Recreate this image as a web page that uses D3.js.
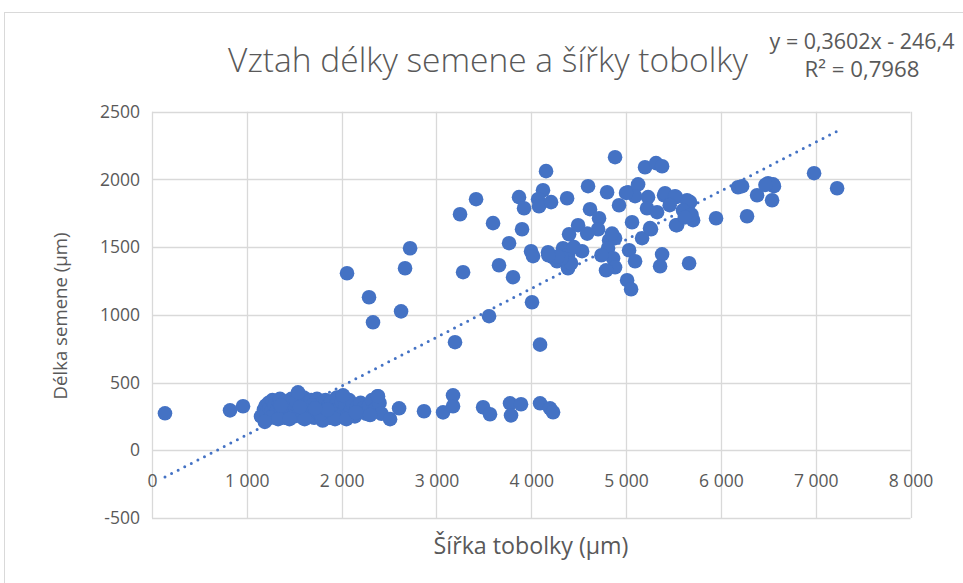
<!DOCTYPE html>
<html>
<head>
<meta charset="utf-8">
<script src="https://cdn.jsdelivr.net/npm/d3@7"></script>
<style>
  body { margin: 0; background: #fff; }
  svg text { font-family: "Open Sans", "Noto Sans", sans-serif; fill: #595959; }
</style>
</head>
<body>
<div id="chart"></div>
<script>
// sirka tobolky (um) - x values
var sirka = [
  137, 823, 960,
  1150, 1180, 1200, 1210, 1230, 1240, 1260, 1270, 1290, 1300, 1320, 1340, 1350, 1370, 1380, 1400,
  1410, 1430, 1440, 1460, 1470, 1490, 1500, 1520, 1540, 1550, 1560, 1580, 1590, 1600, 1620, 1640,
  1650, 1670, 1680, 1700, 1710, 1730, 1740, 1760, 1770, 1790, 1800, 1810, 1830, 1840, 1860, 1870,
  1890, 1900, 1920, 1940, 1950, 1970, 1990, 2000, 2010, 2030, 2040, 2060, 2080, 2100, 2120, 2140,
  2160, 2180, 2200, 2230, 2260, 2290, 2320, 2350, 2380, 2400, 2420, 1250, 1330, 1450, 1610, 1780,
  1930, 1480, 1690, 1850, 1360, 1520, 2050, 2150, 2300, 1560, 1720, 1190, 2384, 2015, 1540,
  2511, 2606, 2869, 3070, 3175, 3175, 3492, 3565, 3776, 3787, 3892, 4093, 4198, 4230,
  2057, 2289, 2331, 2627, 2669, 2722, 3249, 3418, 3281, 3196, 3555, 3597, 3660, 3766, 3808, 3871,
  3924, 3903, 3998, 4019, 4008, 4093, 4124, 4072, 4082, 4156, 4209, 4378, 4177, 4230, 4272, 4335,
  4388, 4388, 4420, 4399, 4494, 4536, 4599, 4620, 4715, 4705, 4800, 4884, 4926, 4821, 4884, 4810,
  4863, 4884, 4789, 5011, 5053, 5032, 5095, 5063, 5021, 5127, 5095, 5200, 5316, 5380, 5232, 5221,
  5327, 5263, 5169, 5380, 5359, 5401, 5527, 5665, 5527, 5675, 5707, 5949, 6276, 6382, 6181, 6224,
  6498, 6551, 6540, 6983, 7226, 5643, 5601, 5538, 5253, 5411, 5517, 5690, 5620, 5460, 4852, 4740,
  4590, 4450, 4320, 4280, 4180, 5000, 6560, 6470
];
// delka semene (um) - y values
var delka = [
  273, 295, 325,
  250, 300, 330, 270, 350, 310, 290, 370, 330, 260, 300, 350, 380, 280, 320, 240,
  360, 300, 340, 270, 380, 320, 250, 300, 360, 410, 280, 330, 240, 390, 300, 350,
  260, 320, 370, 290, 240, 340, 380, 300, 260, 350, 220, 310, 370, 280, 330, 240,
  360, 300, 270, 340, 390, 310, 250, 360, 400, 290, 330, 260, 370, 300, 340, 250,
  320, 290, 350, 310, 270, 330, 370, 300, 399, 350, 270, 240, 230, 230, 230, 270,
  230, 350, 330, 300, 330, 360, 230, 280, 260, 320, 310, 210, 399, 406, 428,
  230, 310, 288, 280, 406, 325, 318, 266, 347, 258, 340, 347, 310, 281,
  1307, 1130, 945, 1026, 1344, 1492, 1743, 1854, 1315, 798, 990, 1677, 1366, 1529, 1278, 1869,
  1787, 1632, 1470, 1433, 1093, 780, 1920, 1854, 1802, 2061, 1832, 1861, 1462, 1425, 1396, 1492,
  1440, 1344, 1381, 1595, 1662, 1470, 1950, 1780, 1713, 1632, 1905, 2164, 1809, 1551, 1566, 1492,
  1418, 1351, 1329, 1256, 1189, 1477, 1396, 1684, 1905, 1964, 1876, 2090, 2120, 2097, 1869, 1787,
  1758, 1632, 1566, 1447, 1359, 1883, 1869, 1381, 1662, 1832, 1699, 1713, 1728, 1883, 1942, 1950,
  1972, 1964, 1846, 2046, 1935, 1846, 1772, 1662, 1640, 1898, 1876, 1740, 1720, 1810, 1600, 1440,
  1600, 1500, 1420, 1430, 1440, 1900, 1950, 1960
];
var xTicks = [0, 1000, 2000, 3000, 4000, 5000, 6000, 7000, 8000];
var yTicks = [-500, 0, 500, 1000, 1500, 2000, 2500];
var slope = 0.3602, intercept = -246.4;
var titleText = "Vztah délky semene a šířky tobolky";
var eqLines = ["y = 0,3602x - 246,4", "R² = 0,7968"];
var xTitle = "Šířka tobolky (µm)";
var yTitle = "Délka semene (µm)";

var W = 963, H = 583;
var blue = "#4472C4", grid = "#d9d9d9";

var svg = d3.select("#chart").append("svg")
    .attr("width", W)
    .attr("height", H);

// chart border
svg.append("rect")
    .attr("x", 4.5).attr("y", 12.5)
    .attr("width", 1000).attr("height", 700)
    .attr("fill", "none").attr("stroke", grid);

var x = d3.scaleLinear().domain([0, 8000]).range([152, 910.5]);
var y = d3.scaleLinear().domain([-500, 2500]).range([518, 111.7]);

var czLocale = d3.formatLocale({ decimal: ",", thousands: "\u00a0", grouping: [3], currency: ["", ""], minus: "-" });
var fmtX = czLocale.format(",d");
var fmtY = czLocale.format("d");

// gridlines
svg.append("g").selectAll("line").data(xTicks).enter().append("line")
    .attr("x1", function(d){ return Math.round(x(d)) + 0.5; })
    .attr("x2", function(d){ return Math.round(x(d)) + 0.5; })
    .attr("y1", y(2500)).attr("y2", y(-500))
    .attr("stroke", grid).attr("stroke-width", 1.3);
svg.append("g").selectAll("line").data(yTicks).enter().append("line")
    .attr("y1", function(d){ return Math.round(y(d)) + 0.5; })
    .attr("y2", function(d){ return Math.round(y(d)) + 0.5; })
    .attr("x1", x(0)).attr("x2", x(8000))
    .attr("stroke", grid).attr("stroke-width", 1.3);

// y axis labels
var yAxis = d3.axisLeft(y).tickValues(yTicks).tickSize(0).tickPadding(12).tickFormat(fmtY);
var gy = svg.append("g").attr("transform", "translate(" + x(0) + ",0)").call(yAxis);
gy.attr("font-size", null).attr("font-family", null);
gy.select(".domain").remove();
gy.selectAll("text").style("font-size", "17.5px").attr("fill", "#595959");

// x axis labels, hung under the zero line
var xAxis = d3.axisBottom(x).tickValues(xTicks).tickSize(0).tickPadding(24).tickFormat(fmtX);
var gx = svg.append("g").attr("transform", "translate(0," + y(0) + ")").call(xAxis);
gx.attr("font-size", null).attr("font-family", null);
gx.select(".domain").remove();
gx.selectAll("text").style("font-size", "17.5px").attr("fill", "#595959");

// trendline over the data range
var xr = d3.extent(sirka);
svg.append("line")
    .attr("x1", x(xr[0])).attr("y1", y(slope * xr[0] + intercept))
    .attr("x2", x(xr[1])).attr("y2", y(slope * xr[1] + intercept))
    .attr("stroke", blue).attr("stroke-width", 3)
    .attr("stroke-linecap", "round")
    .attr("stroke-dasharray", "0,7.4");

// points
var pts = sirka.map(function(d, i){ return { x: d, y: delka[i] }; });
svg.append("g").selectAll("circle").data(pts).enter().append("circle")
    .attr("cx", function(d){ return x(d.x); })
    .attr("cy", function(d){ return y(d.y); })
    .attr("r", 7.3)
    .attr("fill", blue);

// fit a text node to a target width
function fit(t, target) {
    var w = t.node().getComputedTextLength();
    var fs = parseFloat(t.style("font-size"));
    t.style("font-size", (fs * target / w) + "px");
}

var title = svg.append("text")
    .attr("x", 488).attr("y", 72)
    .attr("text-anchor", "middle")
    .style("font-size", "26px")
    .style("font-weight", 300)
    .text(titleText);
fit(title, 520);

svg.selectAll(".eq").data(eqLines).enter().append("text")
    .attr("class", "eq")
    .attr("x", 862)
    .attr("y", function(d, i){ return 49 + i * 28; })
    .attr("text-anchor", "middle")
    .style("font-size", "17px")
    .text(function(d){ return d; })
    .each(function(d, i){ fit(d3.select(this), i === 0 ? 185 : 115); });

var xt = svg.append("text")
    .attr("x", 531).attr("y", 554)
    .attr("text-anchor", "middle")
    .style("font-size", "18px")
    .text(xTitle);
fit(xt, 195);

var yt = svg.append("text")
    .attr("transform", "translate(67,316) rotate(-90)")
    .attr("text-anchor", "middle")
    .style("font-size", "18px")
    .text(yTitle);
fit(yt, 167);
</script>
</body>
</html>
